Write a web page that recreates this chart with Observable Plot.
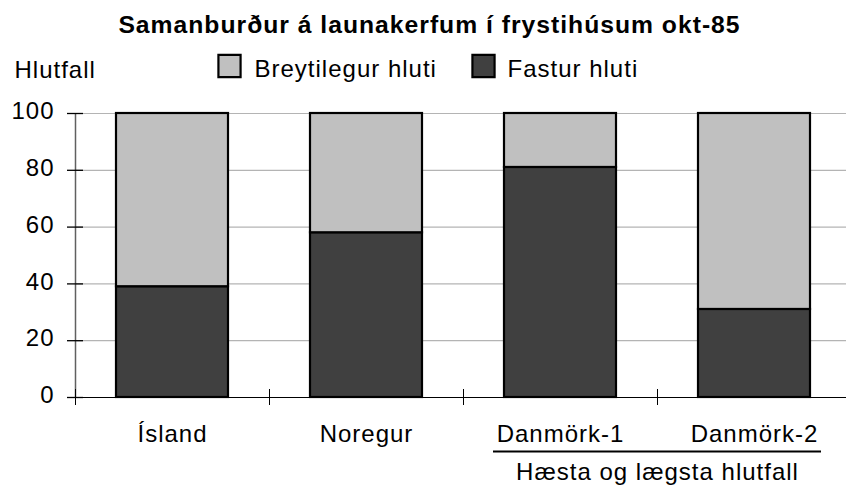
<!DOCTYPE html>
<html>
<head>
<meta charset="utf-8">
<script src="https://cdn.jsdelivr.net/npm/d3@7"></script>
<script src="https://cdn.jsdelivr.net/npm/@observablehq/plot@0.6"></script>
<style>
  html, body { margin: 0; padding: 0; background: #fff; }
  svg { display: block; }
</style>
</head>
<body>
<div id="chart"></div>
<script>
const titleText = "Samanburður á launakerfum í frystihúsum okt-85";
const yLabel = "Hlutfall";
const groupLabel = "Hæsta og lægsta hlutfall";
const categories = ["Ísland", "Noregur", "Danmörk-1", "Danmörk-2"];
const seriesNames = ["Breytilegur hluti", "Fastur hluti"];
const fastur = [39, 58, 81, 31];
const breytilegur = [61, 42, 19, 69];
const yTicks = [0, 20, 40, 60, 80, 100];

const table = [];
categories.forEach((c, i) => {
  table.push({cat: c, series: "Fastur hluti", value: fastur[i]});
  table.push({cat: c, series: "Breytilegur hluti", value: breytilegur[i]});
});

const W = 846, H = 486, ML = 75, MR = -5, MT = 113, MB = 89;
const innerW = W - ML - MR;
const bw = innerW / categories.length;
const FONT = 24;
const fills = ["#c0c0c0", "#404040"];

const chart = Plot.plot({
  width: W,
  height: H,
  marginLeft: ML,
  marginRight: MR,
  marginTop: MT,
  marginBottom: MB,
  style: {fontFamily: "'Liberation Sans', Arial, sans-serif", fontSize: FONT + "px", color: "#000", background: "#fff", letterSpacing: "1px"},
  x: {domain: categories, padding: 0, axis: null},
  y: {domain: [0, 100], axis: null},
  color: {domain: seriesNames, range: fills},
  marks: [
    Plot.gridY(yTicks.filter(d => d > 0), {stroke: "#b4b4b4", strokeOpacity: 1, strokeWidth: 1.2}),
    Plot.barY(table, {x: "cat", y: "value", fill: "series", stroke: "#000", strokeWidth: 2.2, insetLeft: 41, insetRight: 41}),
    // y axis line (left edge of first band, full frame height)
    Plot.tickX([categories[0]], {dx: -bw / 2, stroke: "#606060", strokeWidth: 1.5}),
    // x axis baseline
    Plot.ruleY([0], {stroke: "#000", strokeWidth: 1}),
    // x ticks at band boundaries
    Plot.ruleX(categories, {x: d => d, y1: 0, y2: 0, insetTop: 8, insetBottom: 8, dx: -bw / 2, stroke: "#000", strokeWidth: 1}),
    // y ticks crossing axis
    Plot.axisY(yTicks, {tickSize: 16, dx: 8, tickFormat: () => "", label: null, stroke: "#000", strokeWidth: 1.3}),
    Plot.axisY(yTicks, {tickSize: 0, tickPadding: 21, dy: -2, label: null, fontSize: FONT}),
    // x labels
    Plot.text(categories, {x: d => d, y: 0, dy: 44, lineAnchor: "bottom", fontSize: FONT}),
    // group underline + label
    Plot.ruleY([0], {insetLeft: 418, insetRight: 30, dy: 54, stroke: "#000", strokeWidth: 2.2}),
    Plot.text([groupLabel], {frameAnchor: "bottom-left", dx: 582, dy: 82, lineAnchor: "bottom", textAnchor: "middle", fontSize: FONT}),
    // title
    Plot.text([titleText], {frameAnchor: "top-left", dx: 354, dy: -81, lineAnchor: "bottom", textAnchor: "middle", fontWeight: "bold", fontSize: 24.7}),
    // y label
    Plot.text([yLabel], {frameAnchor: "top-left", dx: 14 - ML, dy: 77 - MT, lineAnchor: "bottom", textAnchor: "start", fontSize: FONT}),
    // legend
    Plot.dot([seriesNames[0]], {frameAnchor: "top-left", dx: 229 - ML, dy: 65.5 - MT, symbol: "square", r: 12.5, fill: fills[0], stroke: "#000", strokeWidth: 2.2}),
    Plot.text([seriesNames[0]], {frameAnchor: "top-left", dx: 254 - ML, dy: 76 - MT, lineAnchor: "bottom", textAnchor: "start", fontSize: FONT}),
    Plot.dot([seriesNames[1]], {frameAnchor: "top-left", dx: 483 - ML, dy: 65.5 - MT, symbol: "square", r: 12.5, fill: fills[1], stroke: "#000", strokeWidth: 2.2}),
    Plot.text([seriesNames[1]], {frameAnchor: "top-left", dx: 507 - ML, dy: 76 - MT, lineAnchor: "bottom", textAnchor: "start", fontSize: FONT})
  ]
});
document.getElementById("chart").appendChild(chart);
</script>
</body>
</html>
